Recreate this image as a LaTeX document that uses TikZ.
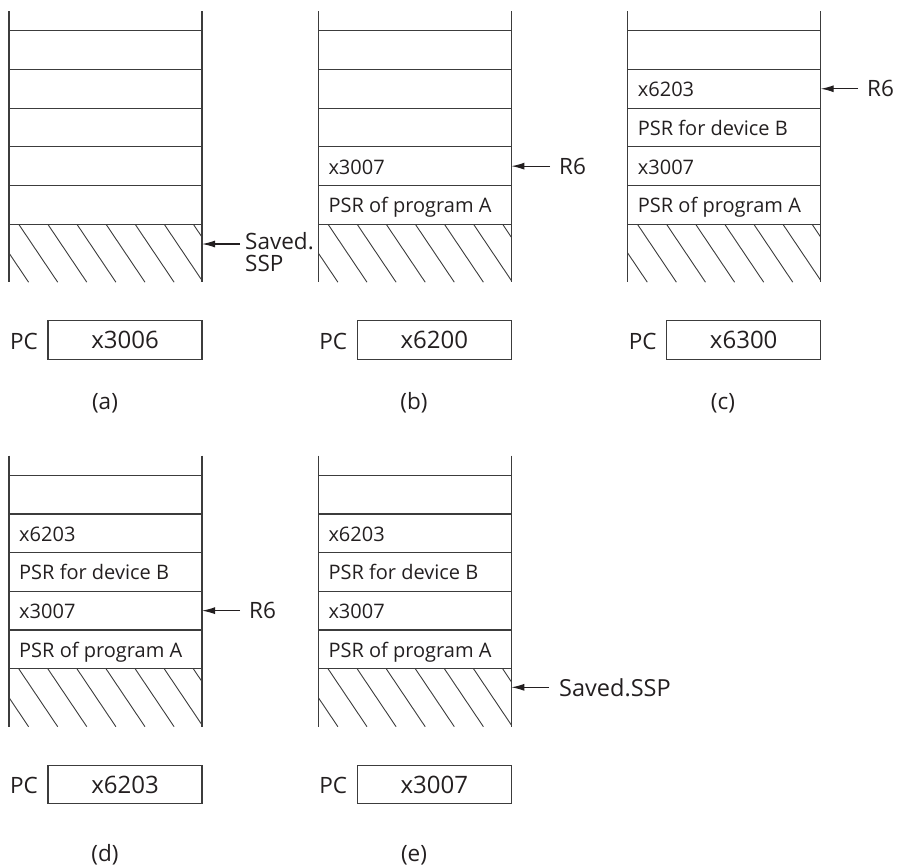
\documentclass[tikz,border=0pt]{standalone}
\usepackage{fontspec}
\setmainfont{Open Sans}
\usetikzlibrary{arrows.meta}
\definecolor{ink}{RGB}{35,31,32}
\definecolor{rulec}{RGB}{60,60,60}
\tikzset{
  frame/.style={draw=rulec, line width=1.2pt},
  hatch/.style={draw=rulec, line width=0.9pt},
  cell/.style={anchor=base west, inner sep=0pt, text=ink, font=\fontsize{20}{22}\selectfont},
  big/.style={inner sep=0pt, text=ink, font=\fontsize{22.5}{22}\selectfont},
  pcbox/.style={draw=rulec, line width=1.2pt, minimum width=154pt, minimum height=38.6pt, inner sep=0pt, text=ink, font=\fontsize{24}{26}\selectfont},
  ptr/.style={draw=ink, line width=1.2pt, -{Latex[length=13pt,width=7pt]}},
  side/.style={big, anchor=west, inner xsep=9pt, inner ysep=0pt},
}
\newcommand\stackframe[2]{%
\begin{scope}[shift={(#1,#2)}]
 \draw[frame] (0,11) -- (0,282) (193,11) -- (193,282);
 \foreach \yy in {30.7,69.4,108.1,146.8,185.5,224.2}{\draw[frame] (0,\yy) -- (193,\yy);}
 \begin{scope}
  \clip (0,224.2) rectangle (193,282);
  \foreach \k in {-2,...,6}{\draw[hatch] (9.7+29.1*\k,224.2) -- ++(39,58);}
 \end{scope}
\end{scope}}
\begin{document}
\begin{tikzpicture}[x=1pt,y=-1pt]
\useasboundingbox (0,0) rectangle (898,868);

% stack frames
\stackframe{9}{0}
\stackframe{318.3}{0}
\stackframe{627.7}{0}
\stackframe{9}{444.5}
\stackframe{318.3}{444.5}

% (b) contents
\node[cell] (b4) at (328.3,174) {x3007};
\node[cell] (b5) at (328.3,212.7) {PSR of program A};
% (c) contents
\node[cell] (c2) at (637.7,96.6) {x6203};
\node[cell] (c3) at (637.7,135.3) {PSR for device B};
\node[cell] (c4) at (637.7,174) {x3007};
\node[cell] (c5) at (637.7,212.7) {PSR of program A};
% (d) contents
\node[cell] (d2) at (19,541.1) {x6203};
\node[cell] (d3) at (19,579.8) {PSR for device B};
\node[cell] (d4) at (19,618.5) {x3007};
\node[cell] (d5) at (19,657.2) {PSR of program A};
% (e) contents
\node[cell] (e2) at (328.3,541.1) {x6203};
\node[cell] (e3) at (328.3,579.8) {PSR for device B};
\node[cell] (e4) at (328.3,618.5) {x3007};
\node[cell] (e5) at (328.3,657.2) {PSR of program A};

% pointers
\coordinate (tipa) at (202,244);
\node[big, anchor=north west, align=left, inner xsep=5pt, inner ysep=0pt] (sva) at (240,232) {Saved.\\SSP};
\draw[ptr] (sva.west |- tipa) -- (tipa);

\coordinate (tipb) at (511.3,166.15);
\node[side] (r6b) at (550,166.15) {R6};
\draw[ptr] (r6b.west) -- (tipb);

\coordinate (tipc) at (820.7,88.75);
\node[side] (r6c) at (858,88.75) {R6};
\draw[ptr] (r6c.west) -- (tipc);

\coordinate (tipd) at (202,610.65);
\node[side] (r6d) at (240,610.65) {R6};
\draw[ptr] (r6d.west) -- (tipd);

\coordinate (tipe) at (511.3,687.3);
\node[side, inner xsep=10pt, font=\fontsize{23.5}{24}\selectfont] (sve) at (549,687.3) {Saved.SSP};
\draw[ptr] (sve.west) -- (tipe);

% PC registers
\node[big] (pca) at (24,341) {PC};
\node[pcbox] (pcva) at (125,340) {x3006};
\node[big] (pcb) at (333.3,341) {PC};
\node[pcbox] (pcvb) at (434.3,340) {x6200};
\node[big] (pcc) at (642.7,341) {PC};
\node[pcbox] (pcvc) at (743.7,340) {x6300};
\node[big] (pcd) at (24,785.5) {PC};
\node[pcbox] (pcvd) at (125,784.5) {x6203};
\node[big] (pce) at (333.3,785.5) {PC};
\node[pcbox] (pcve) at (434.3,784.5) {x3007};

% captions
\node[big] (capa) at (105,403) {(a)};
\node[big] (capb) at (414,403) {(b)};
\node[big] (capc) at (723,403) {(c)};
\node[big] (capd) at (105,855) {(d)};
\node[big] (cape) at (414,855) {(e)};
\end{tikzpicture}
\end{document}
